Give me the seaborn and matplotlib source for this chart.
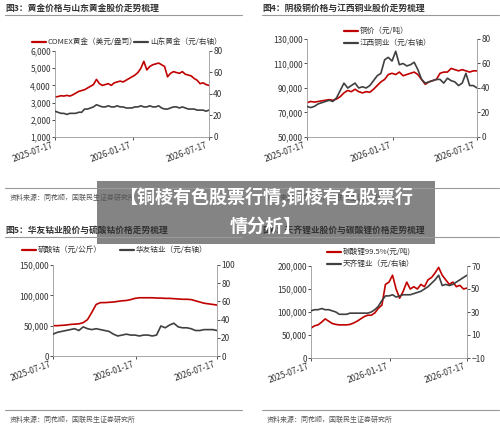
import numpy as np
import pandas as pd
import matplotlib
matplotlib.use('Agg')
import matplotlib.pyplot as plt
import seaborn as sns

sns.set_theme(style='white')
plt.rcParams['font.family'] = ['Noto Sans CJK SC', 'DejaVu Sans']

RED = '#c00000'
GRAY = '#404040'
date_ticks = pd.to_datetime(['2025-07-17', '2026-01-17', '2026-07-17'])

# 图3
gold = [3330, 3350, 3400, 3380, 3420, 3380, 3450, 3550, 3650, 3700, 3750, 3850, 3950, 4050, 4350, 4100,
        4000, 4050, 4100, 4000, 4150, 4200, 4250, 4200, 4300, 4400, 4500, 4600, 4750, 5000, 5400, 4900,
        5100, 5200, 5250, 5300, 5200, 5100, 4500, 4700, 4800, 4750, 4700, 4800, 4650, 4600, 4550, 4400,
        4300, 4100, 4150, 4050, 4000]
sd_gold = [24, 23, 22, 22, 21, 22, 22, 22, 23, 23, 26, 26, 27, 28, 30, 29, 28, 28, 29, 28, 28, 29, 28, 28,
           27, 27, 27, 28, 28, 29, 28, 28, 29, 28, 28, 29, 27, 26, 26, 27, 28, 28, 27, 28, 27, 26, 26, 26,
           25, 25, 25, 24, 25]
# 图4
copper = [78000, 79000, 78500, 79000, 79500, 80000, 80500, 80000, 81000, 83000, 86000, 88000, 87000, 89000,
          87000, 86000, 87000, 86500, 89000, 92000, 95000, 97000, 101000, 102000, 101000, 103000, 100000,
          101000, 102000, 103000, 101000, 97000, 93000, 95000, 96000, 97000, 102000, 103000, 103000, 106000,
          105000, 104000, 105000, 104000, 103000, 104000, 104000]
jx_copper = [25, 24, 25, 27, 28, 29, 30, 29, 32, 38, 44, 40, 42, 44, 40, 41, 40, 42, 46, 50, 52, 63, 65,
             62, 70, 59, 60, 58, 59, 61, 55, 47, 44, 45, 46, 47, 47, 44, 48, 46, 45, 42, 44, 52, 42, 42, 40]
# 图5
cobalt = [50000, 50000, 50500, 51000, 52000, 52500, 53000, 55000, 60000, 72000, 85000, 88000, 88000,
          88500, 89000, 90000, 91000, 91500, 93000, 95000, 96000, 96000, 96000, 96000, 95500, 95500, 95000,
          95000, 94500, 94000, 93500, 93500, 93000, 91000, 89000, 87000, 86000, 85000, 84000]
huayou = [24, 26, 27, 28, 29, 30, 28, 32, 30, 29, 30, 29, 28, 27, 24, 22, 23, 24, 23, 23, 22, 23, 23, 22,
          23, 33, 31, 34, 36, 32, 31, 31, 30, 28, 28, 29, 29, 29, 28]
# 图6
lithium = [65000, 70000, 72000, 78000, 85000, 80000, 75000, 73000, 72000, 72000, 72000, 73000, 76000,
           80000, 85000, 90000, 93000, 93000, 98000, 108000, 115000, 160000, 165000, 180000, 150000, 130000,
           145000, 165000, 150000, 155000, 150000, 160000, 155000, 170000, 175000, 185000, 197000, 180000,
           170000, 160000, 165000, 155000, 158000, 150000, 152000]
tianqi = [31, 32, 32, 33, 32, 32, 31, 30, 28, 28, 28, 29, 29, 29, 29, 29, 29, 30, 32, 35, 40, 44, 44, 45,
          43, 44, 45, 45, 45, 46, 47, 48, 50, 52, 55, 58, 62, 53, 54, 53, 54, 56, 58, 60, 62]

panels = [
    dict(title='图3：黄金价格与山东黄金股价走势梳理', tx=5, ty=8,
         box=(55, 51, 209, 137), l=gold, r=sd_gold,
         ln='COMEX黄金（美元/盎司）', rn='山东黄金（元/右轴）',
         lyl=(1000, 6000), lyt=[1000, 2000, 3000, 4000, 5000, 6000],
         ryl=(0, 80), ryt=[0, 20, 40, 60, 80], legx=(32, 134), legy=42, src_y=188),
    dict(title='图4：阴极铜价格与江西铜业股价走势梳理', tx=262, ty=8,
         box=(307, 39, 477, 137), l=copper, r=jx_copper,
         ln='铜价（元/吨）', rn='江西铜业（元/右轴）',
         lyl=(50000, 130000), lyt=[50000, 70000, 90000, 110000, 130000],
         ryl=(0, 80), ryt=[0, 20, 40, 60, 80], legx=(344, 344), legy=31, src_y=188),
    dict(title='图5：华友钴业股价与硫酸钴价格走势梳理', tx=5, ty=230,
         box=(53, 265, 217, 356), l=cobalt, r=huayou,
         ln='硫酸钴（元/公斤）', rn='华友钴业（元/右轴）',
         lyl=(0, 150000), lyt=[0, 50000, 100000, 150000],
         ryl=(0, 100), ryt=[0, 20, 40, 60, 80, 100], legx=(22, 120), legy=250, src_y=410),
    dict(title='图6：天齐锂业股价与碳酸锂价格走势梳理', tx=262, ty=230,
         box=(311, 266, 467, 358), l=lithium, r=tianqi,
         ln='碳酸锂99.5%(元/吨)', rn='天齐锂业（元/右轴）',
         lyl=(0, 200000), lyt=[0, 50000, 100000, 150000, 200000],
         ryl=(-10, 70), ryt=[-10, 10, 30, 50, 70], legx=(327, 327), legy=252, src_y=410),
]

W, H = 500, 425
fig = plt.figure(figsize=(5, 4.25), dpi=100)

for p in panels:
    x0, y0, x1, y1 = p['box']
    ax = fig.add_axes([x0 / W, 1 - y1 / H, (x1 - x0) / W, (y1 - y0) / H])
    ax2 = ax.twinx()
    dl = pd.date_range('2025-07-17', '2026-07-17', periods=len(p['l']))
    dr = pd.date_range('2025-07-17', '2026-07-17', periods=len(p['r']))
    sns.lineplot(x=dl, y=p['l'], ax=ax, color=RED, lw=1.2)
    sns.lineplot(x=dr, y=p['r'], ax=ax2, color=GRAY, lw=1.2)
    ax.set_ylim(*p['lyl'])
    ax.set_yticks(p['lyt'])
    ax.set_yticklabels([f'{v:,}' for v in p['lyt']])
    ax2.set_ylim(*p['ryl'])
    ax2.set_yticks(p['ryt'])
    ax.set_xlim(date_ticks[0], date_ticks[-1])
    ax.set_xticks(date_ticks)
    ax.set_xticklabels([d.strftime('%Y-%m-%d') for d in date_ticks], rotation=20, ha='right')
    for a in (ax, ax2):
        for s in a.spines.values():
            s.set_visible(False)
        a.tick_params(labelsize=6, colors='#333333', length=2, width=0.6, pad=1)
        a.set_xlabel('')
        a.set_ylabel('')
    ax.spines['left'].set_visible(True)
    ax.spines['bottom'].set_visible(True)
    ax2.spines['right'].set_visible(True)
    for s in (ax.spines['left'], ax.spines['bottom'], ax2.spines['right']):
        s.set_color('#999999')
        s.set_linewidth(0.6)
    ax.tick_params(axis='y', left=True)
    ax.tick_params(axis='x', bottom=True)
    ax2.tick_params(axis='y', right=True)

    # legend
    lxa, lxb = p['legx']
    ly = p['legy']
    ly2 = ly if lxa != lxb else ly + 12
    for lx, yy, c, t in [(lxa, ly, RED, p['ln']), (lxb, ly2, GRAY, p['rn'])]:
        fig.add_artist(plt.Line2D([lx / W, (lx + 14) / W], [1 - yy / H] * 2, color=c, lw=1.6))
        fig.text((lx + 16) / W, 1 - yy / H, t, fontsize=5.5, color='#333333', va='center')

    # title & source
    tx, ty = p['tx'], p['ty']
    fig.text(tx / W, 1 - ty / H, p['title'], fontsize=6.3, fontweight='bold', color='#333333', va='center')
    fig.add_artist(plt.Line2D([tx / W, (tx + 237) / W], [1 - (ty + 7) / H] * 2, color='#999999', lw=0.8))
    fig.add_artist(plt.Line2D([tx / W, (tx + 237) / W], [1 - p['src_y'] / H] * 2, color='#999999', lw=0.8))
    fig.text((tx + 5) / W, 1 - (p['src_y'] + 10) / H, '资料来源：同花顺，国联民生证券研究所',
             fontsize=5, color='#555555', va='center')

# banner overlay
fig.add_artist(plt.Rectangle((97 / W, 1 - 244 / H), 338 / W, 63 / H, transform=fig.transFigure,
                             facecolor='#6e6e6e', alpha=0.85, edgecolor='none'))
fig.text(266 / W, 1 - 197 / H, '【铜棱有色股票行情,铜棱有色股票行', fontsize=13, fontweight='bold',
         color='white', ha='center', va='center')
fig.text(266 / W, 1 - 226 / H, '情分析】', fontsize=13, fontweight='bold',
         color='white', ha='center', va='center')

fig.savefig('out.png', dpi=100)
